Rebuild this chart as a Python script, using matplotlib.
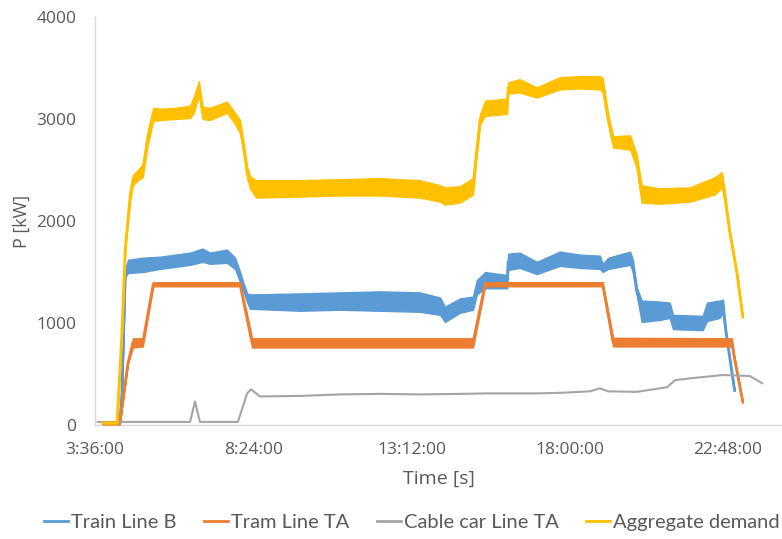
import matplotlib
matplotlib.use('Agg')
import matplotlib.pyplot as plt
from matplotlib.lines import Line2D

# power profiles over the day, [kW]; noisy series are given as (time, low, high) bands
train_b = [
    ("3:51", 15, 25), ("4:21", 15, 25), ("4:25", 300, 310), ("4:31", 1450, 1530),
    ("4:36", 1490, 1620), ("5:03", 1500, 1640), ("5:34", 1530, 1650), ("6:02", 1550, 1670),
    ("6:29", 1570, 1690), ("6:52", 1600, 1730), ("7:05", 1580, 1690), ("7:36", 1590, 1720),
    ("7:51", 1530, 1640), ("8:00", 1400, 1500), ("8:07", 1300, 1380), ("8:13", 1200, 1290),
    ("8:18", 1140, 1280), ("9:49", 1120, 1290), ("11:02", 1130, 1300), ("12:15", 1120, 1310),
    ("13:27", 1110, 1300), ("14:04", 1080, 1250), ("14:13", 1010, 1160), ("14:40", 1100, 1240),
    ("15:04", 1130, 1260), ("15:11", 1280, 1420), ("15:26", 1340, 1500), ("16:06", 1340, 1470),
    ("16:08", 1520, 1680), ("16:29", 1540, 1690), ("17:00", 1480, 1600), ("17:42", 1560, 1700),
    ("18:19", 1540, 1670), ("18:55", 1530, 1660), ("19:00", 1500, 1580), ("19:10", 1530, 1640),
    ("19:50", 1570, 1700), ("19:55", 1500, 1620), ("20:02", 1280, 1350), ("20:11", 1010, 1220),
    ("20:44", 1030, 1210), ("21:02", 1050, 1200), ("21:08", 940, 1080), ("22:02", 930, 1070),
    ("22:10", 1020, 1200), ("22:33", 1050, 1220), ("22:39", 1100, 1230), ("22:44", 900, 950),
    ("23:00", 335, 345),
]

tram_ta = [
    ("3:51", 5, 15), ("4:21", 5, 15), ("4:36", 600, 620), ("4:45", 760, 850),
    ("5:03", 770, 850), ("5:22", 1360, 1400), ("8:00", 1360, 1400), ("8:22", 760, 850),
    ("15:04", 760, 850), ("15:26", 1360, 1400), ("19:00", 1360, 1400), ("19:19", 770, 855),
    ("22:55", 770, 850), ("23:00", 640, 660), ("23:15", 220, 230),
]

cable_car_ta = [
    ("3:41", 30), ("6:29", 30), ("6:38", 230), ("6:47", 30), ("7:56", 30), ("8:13", 310),
    ("8:20", 350), ("8:36", 280), ("9:49", 285), ("11:02", 300), ("12:15", 305),
    ("13:27", 300), ("14:40", 305), ("15:30", 310), ("17:00", 310), ("17:42", 315),
    ("18:37", 330), ("18:55", 360), ("19:10", 330), ("20:02", 325), ("20:57", 370),
    ("21:12", 440), ("21:44", 460), ("22:39", 490), ("23:28", 480), ("23:50", 410),
]

aggregate = [
    ("3:51", 15, 25), ("4:16", 15, 30), ("4:25", 900, 910), ("4:31", 1700, 1750),
    ("4:40", 2200, 2300), ("4:45", 2350, 2450), ("4:54", 2400, 2500), ("5:03", 2430, 2560),
    ("5:12", 2750, 2880), ("5:22", 2980, 3110), ("5:34", 2990, 3100), ("6:02", 3000, 3110),
    ("6:29", 3010, 3130), ("6:36", 3060, 3220), ("6:45", 3240, 3370), ("6:52", 3000, 3120),
    ("7:05", 2990, 3110), ("7:36", 3060, 3170), ("7:51", 2950, 3060), ("8:00", 2860, 2990),
    ("8:07", 2650, 2750), ("8:13", 2420, 2530), ("8:18", 2320, 2440), ("8:29", 2230, 2400),
    ("9:49", 2240, 2400), ("11:02", 2250, 2410), ("12:15", 2250, 2420), ("13:27", 2230, 2400),
    ("14:04", 2190, 2350), ("14:13", 2160, 2330), ("14:40", 2180, 2340), ("15:04", 2260, 2420),
    ("15:11", 2650, 2750), ("15:17", 2950, 3050), ("15:26", 3030, 3180), ("16:06", 3050, 3200),
    ("16:08", 3250, 3360), ("16:29", 3260, 3390), ("17:00", 3210, 3310), ("17:42", 3290, 3410),
    ("18:19", 3300, 3420), ("18:55", 3290, 3420), ("19:00", 3260, 3400), ("19:10", 2950, 3050),
    ("19:19", 2720, 2830), ("19:50", 2700, 2840), ("20:02", 2520, 2650), ("20:11", 2180, 2350),
    ("20:44", 2170, 2320), ("21:39", 2190, 2330), ("22:24", 2260, 2430), ("22:37", 2330, 2480),
    ("22:42", 2200, 2300), ("22:51", 1880, 1920), ("23:04", 1490, 1510), ("23:15", 1055, 1065),
]

x_ticks = ["3:36:00", "8:24:00", "13:12:00", "18:00:00", "22:48:00"]
y_ticks = [0, 1000, 2000, 3000, 4000]

names = ["Train Line B", "Tram Line TA", "Cable car Line TA", "Aggregate demand"]
colors = ["#5B9BD5", "#ED7D31", "#A5A5A5", "#FFC000"]


def hours(s):
    parts = [int(p) for p in s.split(":")]
    while len(parts) < 3:
        parts.append(0)
    return parts[0] + parts[1] / 60 + parts[2] / 3600


def band(rows):
    t = [hours(r[0]) for r in rows]
    lo = [r[1] for r in rows]
    hi = [r[2] for r in rows]
    return t, lo, hi


def draw_band(ax, rows, c, z):
    t, lo, hi = band(rows)
    ax.fill_between(t, lo, hi, color=c, lw=1.0, zorder=z)
    # centre trace keeps the steep ramps visible
    mid = [(a + b) / 2 for a, b in zip(lo, hi)]
    ax.plot(t, mid, color=c, lw=2.0, zorder=z, solid_joinstyle="miter")


fig = plt.figure(figsize=(7.82, 5.39), dpi=100)
ax = fig.add_axes([95 / 782, 114 / 539, 1 - 95 / 782, 408 / 539])

draw_band(ax, train_b, colors[0], 2)
draw_band(ax, tram_ta, colors[1], 3)
ax.plot([hours(r[0]) for r in cable_car_ta], [r[1] for r in cable_car_ta],
        color=colors[2], lw=1.5, zorder=4)
draw_band(ax, aggregate, colors[3], 5)

ax.set_xlim(hours(x_ticks[0]), 24.44)
ax.set_ylim(0, 4000)
ax.set_xticks([hours(s) for s in x_ticks])
ax.set_xticklabels(x_ticks)
ax.set_yticks(y_ticks)
ax.set_yticklabels([str(v) for v in y_ticks])
ax.tick_params(length=0, colors="#595959", labelsize=12.5)
ax.tick_params(axis="y", pad=13.5)
ax.tick_params(axis="x", pad=12)
for lab in ax.get_xticklabels() + ax.get_yticklabels():
    lab.set_family("Open Sans")

for side in ["top", "right"]:
    ax.spines[side].set_visible(False)
for side in ["left", "bottom"]:
    ax.spines[side].set_color("#D9D9D9")
    ax.spines[side].set_linewidth(1.0)

ax.set_xlabel("Time [s]", fontsize=14, color="#595959", family="Open Sans", labelpad=9)
ax.set_ylabel("P [kW]", fontsize=13, color="#595959", family="Open Sans", labelpad=4)

handles = [Line2D([], [], color=c, lw=2) for c in colors]
fig.legend(handles, names, loc="center left", bbox_to_anchor=(36 / 782, 1 - 522 / 539),
           ncol=4, frameon=False, handlelength=1.2, handletextpad=0.15, columnspacing=1.35,
           prop={"family": "Lato", "size": 14.5}, labelcolor="#595959", borderaxespad=0)

fig.savefig("out.png", dpi=100)
